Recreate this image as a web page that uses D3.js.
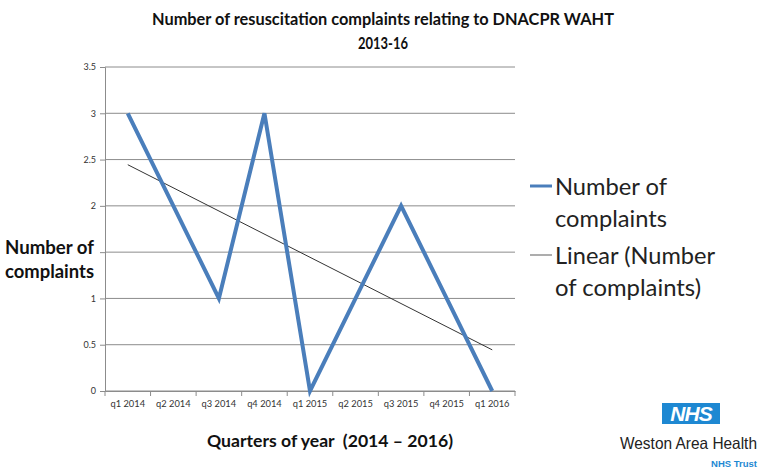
<!DOCTYPE html>
<html><head><meta charset="utf-8">
<script src="https://cdn.jsdelivr.net/npm/d3@7"></script>
<style>body{margin:0;background:#fff;}svg{display:block;}</style>
</head><body>
<svg id="c" width="767" height="473"></svg>
<script>
const categories = ["q1 2014","q2 2014","q3 2014","q4 2014","q1 2015","q2 2015","q3 2015","q4 2015","q1 2016"];
const complaints = [3, 2, 1, 3, 0, 1, 2, 1, 0];
const yTicks = [0, 0.5, 1, 2, 2.5, 3, 3.5];
const yGrid = [0, 0.5, 1, 1.5, 2, 2.5, 3, 3.5];

const svg = d3.select("#c");
const font = "Lato, 'Open Sans', sans-serif";
const m = {l:105, r:515, t:67, b:391};
const x = d3.scaleBand().domain(categories).range([m.l, m.r]);
const y = d3.scaleLinear().domain([0, 3.5]).range([m.b, m.t]);
const cx = d => x(d) + x.bandwidth()/2;

// grid
svg.append("g").selectAll("line").data(yGrid).join("line")
  .attr("x1", m.l).attr("x2", m.r).attr("y1", d=>y(d)).attr("y2", d=>y(d))
  .attr("stroke", "#8c8c8c").attr("stroke-width", 1);

// y axis
const ya = svg.append("g").attr("transform", `translate(${m.l},0)`)
  .call(d3.axisLeft(y).tickValues(yGrid).tickSize(5).tickFormat(d => yTicks.includes(d) ? d3.format("")(d) : ""));
ya.select(".domain").attr("stroke", "#8c8c8c");
ya.selectAll(".tick line").attr("stroke", "#8c8c8c");
ya.selectAll("text").attr("font-family", font).attr("font-size", 9).attr("fill", "#333").attr("x", -9);

// x axis
const xa = svg.append("g").attr("transform", `translate(0,${m.b})`)
  .call(d3.axisBottom(x).tickSize(0));
xa.select(".domain").attr("stroke", "#8c8c8c");
xa.selectAll("text").attr("font-family", font).attr("font-size", 9.3).attr("fill", "#333").attr("dy", "1.45em");
svg.append("g").selectAll("line").data(categories.concat(["end"])).join("line")
  .attr("x1", (d,i)=> m.l + i*x.bandwidth()).attr("x2", (d,i)=> m.l + i*x.bandwidth())
  .attr("y1", m.b).attr("y2", m.b+5).attr("stroke", "#8c8c8c");

// trend line (least squares)
const n = complaints.length;
const xs = complaints.map((d,i)=>i+1);
const mx = d3.mean(xs), my = d3.mean(complaints);
const slope = d3.sum(xs.map((xv,i)=>(xv-mx)*(complaints[i]-my))) / d3.sum(xs.map(xv=>(xv-mx)**2));
const icpt = my - slope*mx;
svg.append("line")
  .attr("x1", cx(categories[0])).attr("y1", y(icpt + slope*1))
  .attr("x2", cx(categories[n-1])).attr("y2", y(icpt + slope*n))
  .attr("stroke", "#333").attr("stroke-width", 1);

// data line
svg.append("path").datum(complaints)
  .attr("d", d3.line().x((d,i)=>cx(categories[i])).y(d=>y(d)))
  .attr("fill", "none").attr("stroke", "#4a7ebb").attr("stroke-width", 4).attr("stroke-linejoin", "miter");

// title
const t = svg.append("text").attr("font-family", font).attr("font-weight", "bold").attr("font-size", 17)
  .attr("text-anchor", "middle").attr("fill", "#111");
t.append("tspan").attr("x", 383).attr("y", 25).attr("textLength", 462).attr("lengthAdjust", "spacingAndGlyphs")
  .text("Number of resuscitation complaints relating to DNACPR WAHT");
t.append("tspan").attr("x", 383).attr("y", 49).attr("textLength", 50).attr("lengthAdjust", "spacingAndGlyphs").text("2013-16");

// y title
const yt = svg.append("text").attr("font-family", font).attr("font-weight", "bold").attr("font-size", 18.5).attr("fill", "#111");
yt.append("tspan").attr("x", 5).attr("y", 254).attr("textLength", 89).attr("lengthAdjust", "spacingAndGlyphs").text("Number of");
yt.append("tspan").attr("x", 5).attr("y", 278).attr("textLength", 89).attr("lengthAdjust", "spacingAndGlyphs").text("complaints");

// x title
svg.append("text").attr("font-family", font).attr("font-weight", "bold").attr("font-size", 17).attr("fill", "#111")
  .attr("x", 207).attr("y", 447).attr("textLength", 246).attr("lengthAdjust", "spacingAndGlyphs")
  .style("white-space", "pre").text("Quarters of year  (2014 \u2013 2016)");

// legend
const lg = svg.append("g").attr("font-family", font).attr("font-size", 23).attr("fill", "#222");
lg.append("line").attr("x1", 530).attr("x2", 552).attr("y1", 186).attr("y2", 186).attr("stroke", "#4a7ebb").attr("stroke-width", 3);
lg.append("text").attr("x", 555).attr("y", 195).attr("textLength", 112).attr("lengthAdjust", "spacingAndGlyphs").text("Number of");
lg.append("text").attr("x", 555).attr("y", 227).attr("textLength", 112).attr("lengthAdjust", "spacingAndGlyphs").text("complaints");
lg.append("line").attr("x1", 530).attr("x2", 552).attr("y1", 255).attr("y2", 255).attr("stroke", "#777").attr("stroke-width", 1.2);
lg.append("text").attr("x", 555).attr("y", 264).attr("textLength", 160).attr("lengthAdjust", "spacingAndGlyphs").text("Linear (Number");
lg.append("text").attr("x", 555).attr("y", 296).attr("textLength", 146).attr("lengthAdjust", "spacingAndGlyphs").text("of complaints)");

// NHS logo
const logo = svg.append("g").attr("font-family", "'Liberation Sans', Arial, sans-serif");
logo.append("rect").attr("x", 662).attr("y", 403).attr("width", 58).attr("height", 21).attr("fill", "#1e88d2");
logo.append("text").attr("x", 691).attr("y", 421).attr("text-anchor", "middle").attr("font-weight", "bold")
  .attr("font-style", "italic").attr("font-size", 21).attr("fill", "#fff").attr("letter-spacing", -1).text("NHS");
logo.append("text").attr("x", 620).attr("y", 449).attr("textLength", 137).attr("lengthAdjust", "spacingAndGlyphs")
  .attr("font-size", 16.5).attr("fill", "#222").text("Weston Area Health");
logo.append("text").attr("x", 757).attr("y", 467).attr("text-anchor", "end").attr("font-size", 9.5).attr("font-weight", "bold").attr("fill", "#1e88d2").text("NHS Trust");
</script>
</body></html>
